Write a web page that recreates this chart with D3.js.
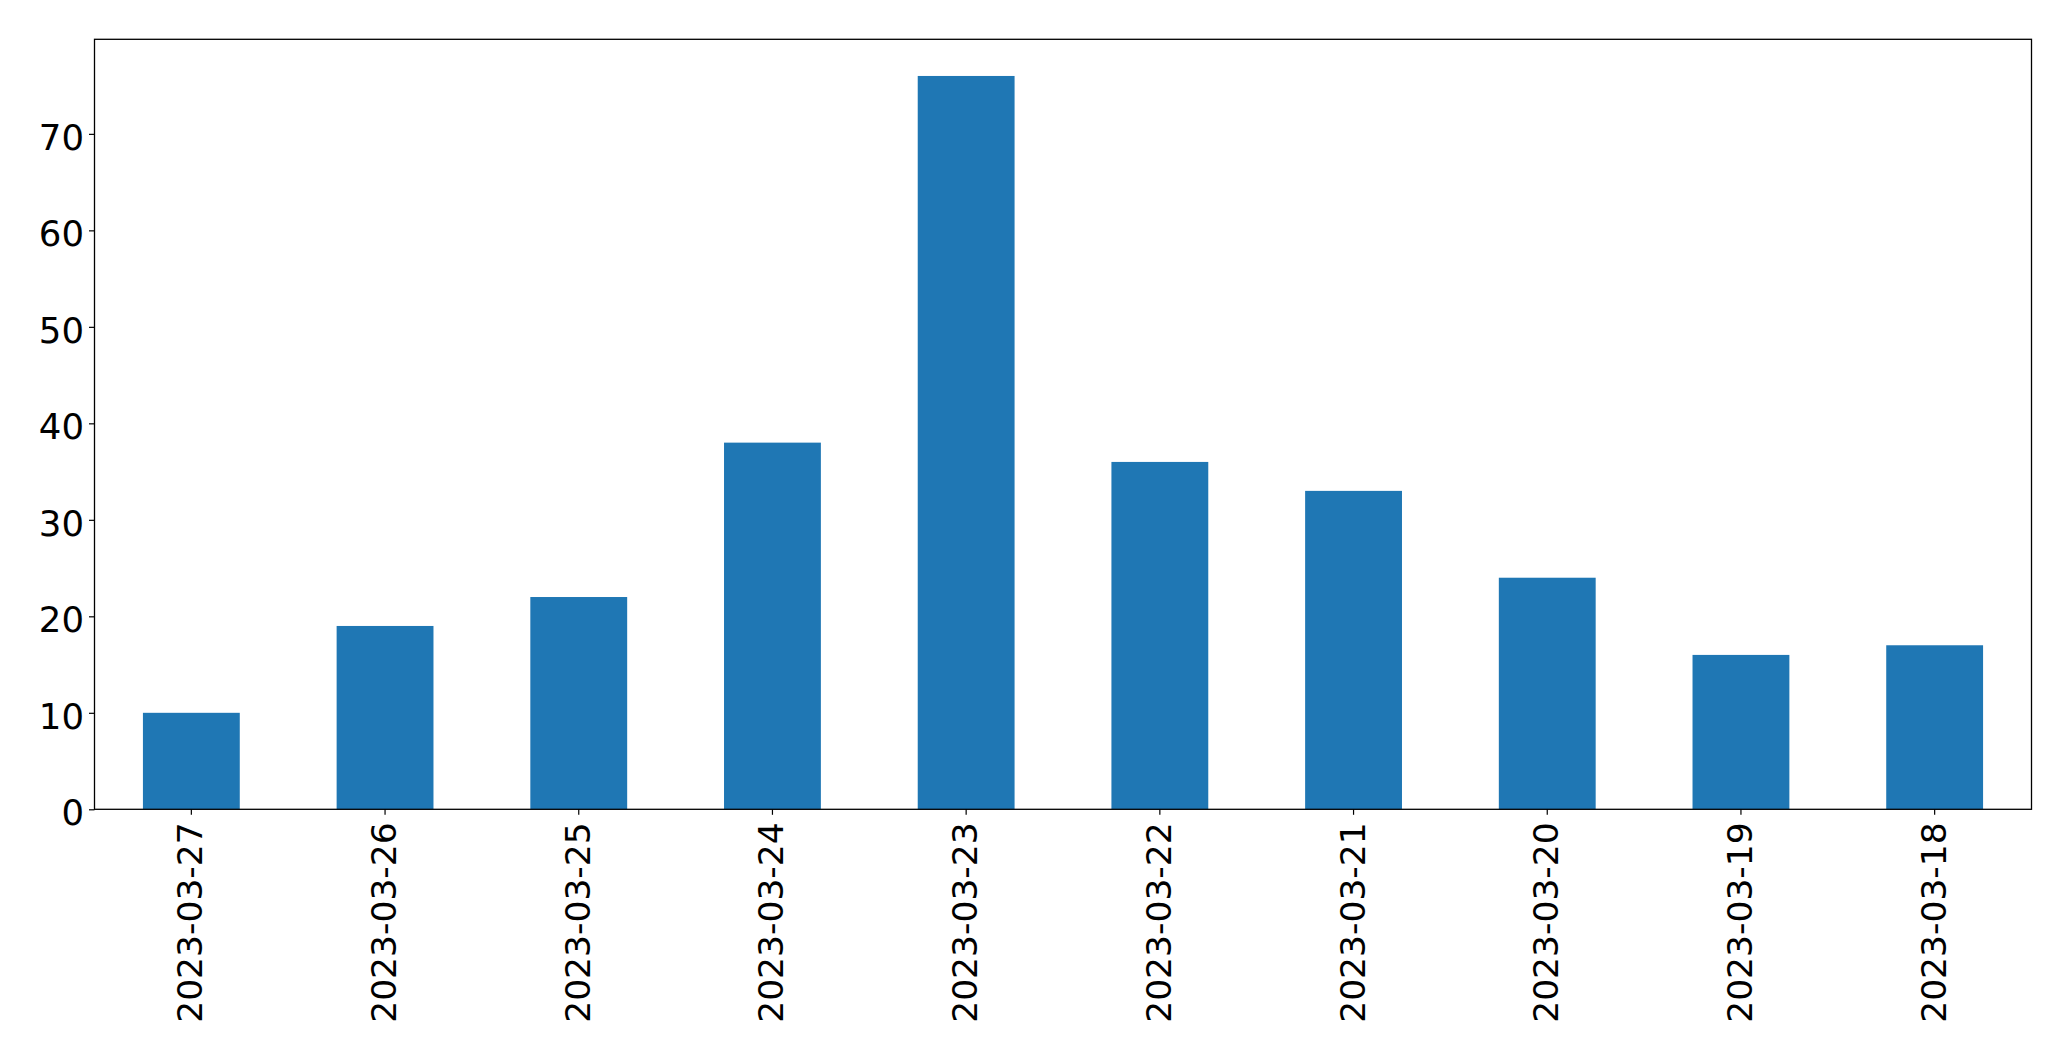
<!DOCTYPE html>
<html><head><meta charset="utf-8">
<script src="https://cdn.jsdelivr.net/npm/d3@7"></script>
<style>body{margin:0;background:#fff;}svg{display:block;}</style>
</head><body>
<script>
const categories = ["2023-03-27","2023-03-26","2023-03-25","2023-03-24","2023-03-23","2023-03-22","2023-03-21","2023-03-20","2023-03-19","2023-03-18"];
const values = [10, 19, 22, 38, 76, 36, 33, 24, 16, 17];
const yTicks = [0, 10, 20, 30, 40, 50, 60, 70];

(function () {
const W = 2071, H = 1061;
const mLeft = 94.5, mRight = 2031.5, mTop = 39.3, mBottom = 809.3;
const svg = d3.select("body").append("svg").attr("width", W).attr("height", H);

const x = d3.scaleBand().domain(categories).range([mLeft, mRight]).paddingInner(0.5).paddingOuter(0.25);
const yMax = d3.max(values) * 1.05;
const y = d3.scaleLinear().domain([0, yMax]).range([mBottom, mTop]);

svg.append("g").selectAll("rect").data(values).join("rect")
  .attr("x", (d, i) => x(categories[i]))
  .attr("width", x.bandwidth())
  .attr("y", d => y(d))
  .attr("height", d => y(0) - y(d))
  .attr("fill", "#1f77b4");

const font = "'DejaVu Sans', sans-serif";

const yAxis = svg.append("g").attr("transform", `translate(${mLeft},0)`)
  .call(d3.axisLeft(y).tickValues(yTicks).tickSize(5.5).tickPadding(5).tickFormat(d3.format("d")));
yAxis.select(".domain").remove();
yAxis.selectAll("text").attr("font-family", font).attr("font-size", 35.5).attr("fill", "#000").attr("dy", "0.44em");
yAxis.selectAll("line").attr("stroke", "#000").attr("stroke-width", 1.2);

const xAxis = svg.append("g").attr("transform", `translate(0,${mBottom})`)
  .call(d3.axisBottom(x).tickSize(5.5).tickPadding(0));
xAxis.select(".domain").remove();
xAxis.selectAll("line").attr("stroke", "#000").attr("stroke-width", 1.2);
xAxis.selectAll("text")
  .attr("font-family", font).attr("font-size", 34.5).attr("fill", "#000")
  .attr("text-anchor", "end")
  .attr("transform", "translate(0,13) rotate(-90)")
  .attr("x", 0).attr("y", 0).attr("dy", "0.32em");

svg.append("rect").attr("x", mLeft).attr("y", mTop).attr("width", mRight - mLeft).attr("height", mBottom - mTop)
  .attr("fill", "none").attr("stroke", "#000").attr("stroke-width", 1.3);
})();
</script>
</body></html>
